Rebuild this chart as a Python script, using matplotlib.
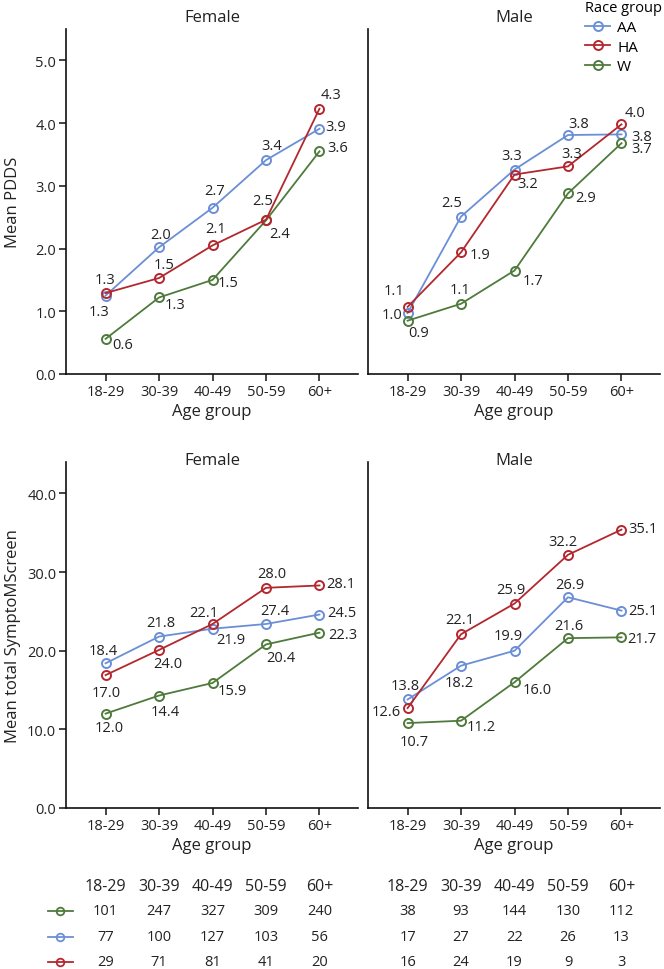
import matplotlib
matplotlib.use('Agg')
import matplotlib.pyplot as plt
import matplotlib.transforms as mtransforms
from matplotlib.lines import Line2D

plt.rcParams['font.family'] = ['Open Sans', 'DejaVu Sans']

# ---- data ----
ages = ['18-29', '30-39', '40-49', '50-59', '60+']
races = ['AA', 'HA', 'W']

# plotted positions
pdds_female = {'AA': [1.25, 2.02, 2.65, 3.41, 3.91],
               'HA': [1.29, 1.53, 2.05, 2.46, 4.23],
               'W':  [0.56, 1.22, 1.50, 2.45, 3.55]}
pdds_male = {'AA': [0.97, 2.51, 3.26, 3.81, 3.82],
             'HA': [1.07, 1.94, 3.18, 3.31, 3.98],
             'W':  [0.85, 1.12, 1.65, 2.88, 3.68]}
sms_female = {'AA': [18.4, 21.8, 22.8, 23.4, 24.6],
              'HA': [16.9, 20.1, 23.4, 28.0, 28.3],
              'W':  [12.0, 14.3, 15.9, 20.8, 22.3]}
sms_male = {'AA': [13.8, 18.1, 20.0, 26.8, 25.1],
            'HA': [12.7, 22.1, 26.0, 32.2, 35.4],
            'W':  [10.8, 11.1, 16.0, 21.6, 21.7]}

# printed value labels
pdds_female_lab = {'AA': ['1.3', '2.0', '2.7', '3.4', '3.9'],
                   'HA': ['1.3', '1.5', '2.1', '2.5', '4.3'],
                   'W':  ['0.6', '1.3', '1.5', '2.4', '3.6']}
pdds_male_lab = {'AA': ['1.0', '2.5', '3.3', '3.8', '3.8'],
                 'HA': ['1.1', '1.9', '3.2', '3.3', '4.0'],
                 'W':  ['0.9', '1.1', '1.7', '2.9', '3.7']}
sms_female_lab = {'AA': ['18.4', '21.8', '21.9', '27.4', '24.5'],
                  'HA': ['17.0', '24.0', '22.1', '28.0', '28.1'],
                  'W':  ['12.0', '14.4', '15.9', '20.4', '22.3']}
sms_male_lab = {'AA': ['13.8', '18.2', '19.9', '26.9', '25.1'],
                'HA': ['12.6', '22.1', '25.9', '32.2', '35.1'],
                'W':  ['10.7', '11.2', '16.0', '21.6', '21.7']}

# sample sizes (rows: W, AA, HA)
n_female = {'W': [101, 247, 327, 309, 240],
            'AA': [77, 100, 127, 103, 56],
            'HA': [29, 71, 81, 41, 20]}
n_male = {'W': [38, 93, 144, 130, 112],
          'AA': [17, 27, 22, 26, 13],
          'HA': [16, 24, 19, 9, 3]}

# ---- label offsets in pixels (dx, dy) ----
off_pdds_female = {'AA': [(-7, -16), (2, 13), (2, 17), (6, 15), (16, 2)],
                   'HA': [(-1, 14), (5, 14), (3, 17), (-3, 19), (12, 14)],
                   'W':  [(17, -6), (16, -7), (16, -3), (14, -13), (18, 4)]}
off_pdds_male = {'AA': [(-16, -1), (-9, 14), (-3, 14), (11, 12), (20, -2)],
                 'HA': [(-14, 16), (19, -2), (13, -9), (4, 13), (14, 12)],
                 'W':  [(11, -12), (-1, 14), (19, -10), (18, -4), (20, -5)]}
off_sms_female = {'AA': [(-2, 13), (2, 14), (18, -11), (9, 13), (22, 2)],
                  'HA': [(1, -17), (9, -14), (-9, 11), (6, 14), (21, 2)],
                  'W':  [(4, -14), (6, -16), (20, -8), (15, -13), (23, -2)]}
off_sms_male = {'AA': [(-2, 14), (-2, -17), (-6, 15), (2, 13), (21, 0)],
                'HA': [(-21, -3), (-1, 15), (-4, 14), (-5, 13), (21, 1)],
                'W':  [(7, -18), (20, -6), (23, -7), (1, 13), (20, -1)]}

colors = {'AA': '#6b8fd6', 'HA': '#b3282e', 'W': '#4e7b3b'}
zorders = {'AA': 3, 'W': 4, 'HA': 5}

LABEL_SIZE = 12
TICK_SIZE = 10.5
ANN_SIZE = 10.5
TXT = '#222222'

fig = plt.figure(figsize=(6.64, 9.70), dpi=100)

W = 292 / 664
ax_tl = fig.add_axes([66 / 664, 1 - 375 / 970, W, 345 / 970])
ax_tr = fig.add_axes([368 / 664, 1 - 375 / 970, W, 345 / 970])
ax_bl = fig.add_axes([66 / 664, 1 - 809 / 970, W, 346 / 970])
ax_br = fig.add_axes([368 / 664, 1 - 809 / 970, W, 346 / 970])

x = list(range(len(ages)))


def draw_panel(ax, vals, labs, offs, title, title_y, ylim, yticks, show_y):
    for r in races:
        ax.plot(x, vals[r], color=colors[r], linewidth=1.3, marker='o',
                markersize=6.5, markerfacecolor='none', markeredgewidth=1.4,
                zorder=zorders[r], clip_on=False)
        for i in x:
            ax.annotate(labs[r][i], (x[i], vals[r][i]), xytext=offs[r][i],
                        textcoords='offset pixels', ha='center', va='center',
                        fontsize=ANN_SIZE, color=TXT, zorder=6)
    ax.set_xlim(-0.74, 4.72)
    ax.set_ylim(*ylim)
    ax.set_xticks(x)
    ax.set_xticklabels(ages, fontsize=TICK_SIZE)
    ax.set_yticks(yticks)
    ax.set_yticklabels(['%.1f' % t for t in yticks], fontsize=TICK_SIZE)
    for s in ['top', 'right']:
        ax.spines[s].set_visible(False)
    for s in ['left', 'bottom']:
        ax.spines[s].set_linewidth(1.2)
        ax.spines[s].set_color('#111111')
    ax.tick_params(axis='both', length=5, width=1.1, color='#111111',
                   labelcolor=TXT, pad=2)
    if not show_y:
        ax.tick_params(axis='y', left=False, labelleft=False)
    ax.set_xlabel('Age group', fontsize=LABEL_SIZE, color=TXT, labelpad=3)
    ax.text(0.5, title_y, title, transform=ax.transAxes, ha='center',
            va='center', fontsize=LABEL_SIZE, color=TXT)


draw_panel(ax_tl, pdds_female, pdds_female_lab, off_pdds_female, 'Female',
           1.035, (0, 5.5), [0, 1, 2, 3, 4, 5], True)
draw_panel(ax_tr, pdds_male, pdds_male_lab, off_pdds_male, 'Male',
           1.035, (0, 5.5), [0, 1, 2, 3, 4, 5], False)
draw_panel(ax_bl, sms_female, sms_female_lab, off_sms_female, 'Female',
           1.006, (0, 44), [0, 10, 20, 30, 40], True)
draw_panel(ax_br, sms_male, sms_male_lab, off_sms_male, 'Male',
           1.006, (0, 44), [0, 10, 20, 30, 40], False)

ax_tl.set_ylabel('Mean PDDS', fontsize=LABEL_SIZE, color=TXT)
ax_tl.yaxis.set_label_coords(-0.155, 0.5)
ax_bl.set_ylabel('Mean total SymptoMScreen', fontsize=LABEL_SIZE, color=TXT)
ax_bl.yaxis.set_label_coords(-0.155, 0.5)

# legend
handles = [Line2D([], [], color=colors[r], linewidth=1.3, marker='o',
                  markersize=6.5, markerfacecolor='none', markeredgewidth=1.4)
           for r in races]
fig.legend(handles, races, title='Race group', loc='upper left',
           bbox_to_anchor=(585 / 664, 0.9985), frameon=False, fontsize=11,
           title_fontsize=10.5, handlelength=1.65, handletextpad=0.45,
           labelspacing=0.3, borderaxespad=0, borderpad=0, alignment='left')

# sample-size table under the panels
row_y = [1 - 887 / 970, 1 - 912 / 970, 1 - 938 / 970, 1 - 963 / 970]
row_order = ['W', 'AA', 'HA']
for ax, counts in [(ax_bl, n_female), (ax_br, n_male)]:
    tr = mtransforms.blended_transform_factory(ax.transData, fig.transFigure)
    for i, a in enumerate(ages):
        ax.text(x[i], row_y[0], a, transform=tr, ha='center', va='center',
                fontsize=11.5, color=TXT)
    for k, r in enumerate(row_order):
        for i in x:
            ax.text(x[i], row_y[k + 1], str(counts[r][i]), transform=tr,
                    ha='center', va='center', fontsize=10.5, color=TXT)

tr = mtransforms.blended_transform_factory(ax_bl.transData, fig.transFigure)
for k, r in enumerate(row_order):
    ax_bl.plot([-1.08, -0.61], [row_y[k + 1]] * 2, transform=tr,
               color=colors[r], linewidth=1.3, clip_on=False)
    ax_bl.plot([-0.845], [row_y[k + 1]], transform=tr, color=colors[r],
               marker='o', markersize=5.5, markerfacecolor='none',
               markeredgewidth=1.3, clip_on=False)

fig.savefig('out.png', dpi=100)
